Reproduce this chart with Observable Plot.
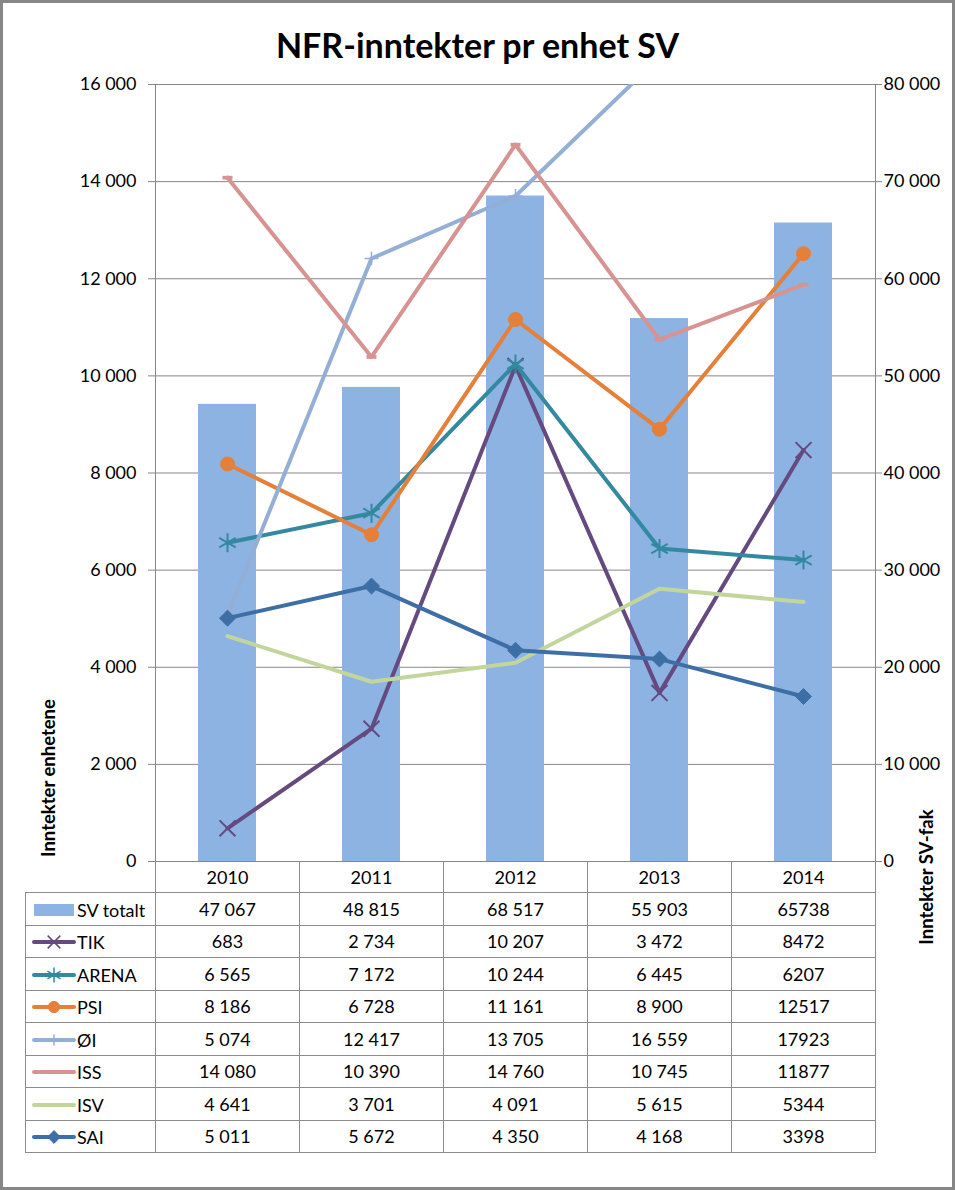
<!DOCTYPE html>
<html><head><meta charset="utf-8">
<script src="https://cdn.jsdelivr.net/npm/d3@7"></script>
<script src="https://cdn.jsdelivr.net/npm/@observablehq/plot@0.6"></script>
<style>
body{margin:0;background:#fff;}
#wrap{position:relative;width:955px;height:1190px;font-family:Lato,"Open Sans",sans-serif;overflow:hidden;background:#fff;color:#000;}
#frame{position:absolute;left:0;top:0;width:955px;height:1190px;box-sizing:border-box;border:3px solid #868686;pointer-events:none;}
#title{position:absolute;left:0;top:22px;width:955px;text-align:center;font-size:34px;font-weight:bold;line-height:46px;}
#chart{position:absolute;left:0;top:0;}
#tbl{position:absolute;left:25px;top:861px;border-collapse:collapse;table-layout:fixed;width:850px;font-size:18px;}
#tbl td{border:1px solid #8c8c8c;text-align:center;padding:0;white-space:nowrap;}
#tbl tr.head td{border-top:none;height:31px;}
#tbl tr.head td.blank{border-left:none;border-top:none;}
#tbl tr.row td{height:31.5px;}
#tbl td.lab{text-align:left;padding-left:6px;}
#tbl td.lab svg{vertical-align:middle;margin-right:1px;}
#tbl td.lab span{vertical-align:middle;}
.ytitle{position:absolute;width:220px;text-align:center;font-size:18.5px;font-weight:bold;line-height:22px;transform:rotate(-90deg);transform-origin:50% 50%;}
</style></head>
<body>
<div id="wrap">
  <div id="chart"></div>
  <div id="title">NFR-inntekter pr enhet SV</div>
  <div class="ytitle" id="ylab">Inntekter enhetene</div>
  <div class="ytitle" id="y2lab">Inntekter SV-fak</div>
  <table id="tbl"></table>
  <div id="frame"></div>
</div>
<script>
// ---- data ----
const years = ["2010", "2011", "2012", "2013", "2014"];
const svTotalt = [47067, 48815, 68517, 55903, 65738];
const tik = [683, 2734, 10207, 3472, 8472];
const arena = [6565, 7172, 10244, 6445, 6207];
const psi = [8186, 6728, 11161, 8900, 12517];
const oi = [5074, 12417, 13705, 16559, 17923];
const iss = [14080, 10390, 14760, 10745, 11877];
const isv = [4641, 3701, 4091, 5615, 5344];
const sai = [5011, 5672, 4350, 4168, 3398];
const seriesNames = ["SV totalt", "TIK", "ARENA", "PSI", "ØI", "ISS", "ISV", "SAI"];
const leftTicks = [0, 2000, 4000, 6000, 8000, 10000, 12000, 14000, 16000];
const rightTicks = [0, 10000, 20000, 30000, 40000, 50000, 60000, 70000, 80000];
const ratio = 5; // right axis / left axis

// ---- styles ----
const dash = {draw(ctx, size) { const w = Math.sqrt(size) * 0.5; const h = w * 0.38; ctx.rect(-w, -h, 2 * w, 2 * h); }};
const lineSeries = [
  {name: "TIK", values: tik, color: "#654a80", symbol: "times", r: 7.3, fill: "none", sw: 2},
  {name: "ARENA", values: arena, color: "#33899f", symbol: "asterisk", r: 9, fill: "none", sw: 2},
  {name: "PSI", values: psi, color: "#e4803a", symbol: "circle", r: 7, fill: "#e4803a", sw: 1},
  {name: "ØI", values: oi, color: "#93afd6", symbol: "plus", r: 4.5, fill: "none", sw: 1.5},
  {name: "ISS", values: iss, color: "#d69391", symbol: dash, r: 5.6, fill: "#d69391", sw: 0},
  {name: "ISV", values: isv, color: "#c2d69c", symbol: null},
  {name: "SAI", values: sai, color: "#3d6ea6", symbol: "diamond2", r: 7.2, fill: "#3d6ea6", sw: 1}
];
const barColor = "#8db3e2";
const gridColor = "#868686";

const locale = d3.formatLocale({decimal: ",", thousands: " ", grouping: [3], currency: ["", ""]});
const fmt = locale.format(",d");

// ---- chart ----
const barData = years.map((y, i) => ({year: y, value: svTotalt[i] / ratio}));
const marks = [
  Plot.gridY(leftTicks, {stroke: gridColor, strokeOpacity: 1}),
  Plot.barY(barData, {x: "year", y: "value", fill: barColor}),
  Plot.frame({stroke: gridColor}),
  Plot.axisY(leftTicks, {anchor: "left", tickFormat: fmt, tickSize: 7, tickPadding: 12, stroke: gridColor, fill: "#000", label: null, fontSize: 18}),
  Plot.axisY(rightTicks.map(t => t / ratio), {anchor: "right", tickFormat: d => fmt(d * ratio), tickSize: 6, tickPadding: 2, stroke: gridColor, fill: "#000", label: null, fontSize: 18})
];
for (const s of lineSeries) {
  const data = years.map((y, i) => ({year: y, value: s.values[i]}));
  marks.push(Plot.line(data, {x: "year", y: "value", stroke: s.color, strokeWidth: 4, strokeLinejoin: "round", strokeLinecap: "round", clip: true}));
  if (s.symbol) {
    marks.push(Plot.dot(data, {x: "year", y: "value", symbol: s.symbol, r: s.r, fill: s.fill, stroke: s.sw ? s.color : "none", strokeWidth: s.sw, clip: true}));
  }
}
const chart = Plot.plot({
  width: 955, height: 900,
  marginTop: 84, marginBottom: 39, marginLeft: 155, marginRight: 80,
  style: {fontFamily: "Lato, 'Open Sans', sans-serif", fontSize: "18px", background: "transparent", color: "#000"},
  x: {type: "band", domain: years, paddingInner: 0.6, paddingOuter: 0.3, axis: null},
  y: {domain: [0, 16000], axis: null},
  marks
});
document.getElementById("chart").appendChild(chart);

// ---- axis titles ----
const yl = document.getElementById("ylab");
yl.style.left = (48 - 110) + "px"; yl.style.top = (778 - 11) + "px";
const yr = document.getElementById("y2lab");
yr.style.left = (926 - 110) + "px"; yr.style.top = (877 - 11) + "px";

// ---- data table ----
const tbl = d3.select("#tbl");
const cg = tbl.append("colgroup");
cg.append("col").style("width", "130px");
years.forEach(() => cg.append("col").style("width", "144px"));
const head = tbl.append("tr").attr("class", "head");
head.append("td").attr("class", "blank");
years.forEach(y => head.append("td").text(y));

function key(td, s) {
  const svg = td.append("svg").attr("width", 44).attr("height", 20);
  if (!s) {
    svg.append("rect").attr("x", 2).attr("y", 4).attr("width", 40).attr("height", 12).attr("fill", barColor);
    return;
  }
  svg.append("line").attr("x1", 2).attr("x2", 42).attr("y1", 10).attr("y2", 10)
    .attr("stroke", s.color).attr("stroke-width", 4).attr("stroke-linecap", "round");
  if (s.symbol) {
    const types = {times: d3.symbolTimes, asterisk: d3.symbolAsterisk, circle: d3.symbolCircle, plus: d3.symbolPlus, diamond2: d3.symbolDiamond2};
    const type = typeof s.symbol === "string" ? types[s.symbol] : s.symbol;
    const rr = s.r * 0.8;
    svg.append("path").attr("transform", "translate(22,10)")
      .attr("d", d3.symbol(type, Math.PI * rr * rr)())
      .attr("fill", s.fill).attr("stroke", s.sw ? s.color : "none").attr("stroke-width", s.sw ? Math.min(s.sw, 1.5) : 0);
  }
}
const allSeries = [{name: "SV totalt", values: svTotalt}, ...lineSeries];
allSeries.forEach((s, k) => {
  const tr = tbl.append("tr").attr("class", "row");
  const lab = tr.append("td").attr("class", "lab");
  key(lab, k === 0 ? null : s);
  lab.append("span").text(seriesNames[k]);
  s.values.forEach((v, i) => tr.append("td").text(years[i] === "2014" ? String(v) : fmt(v)));
});
</script>
</body></html>
